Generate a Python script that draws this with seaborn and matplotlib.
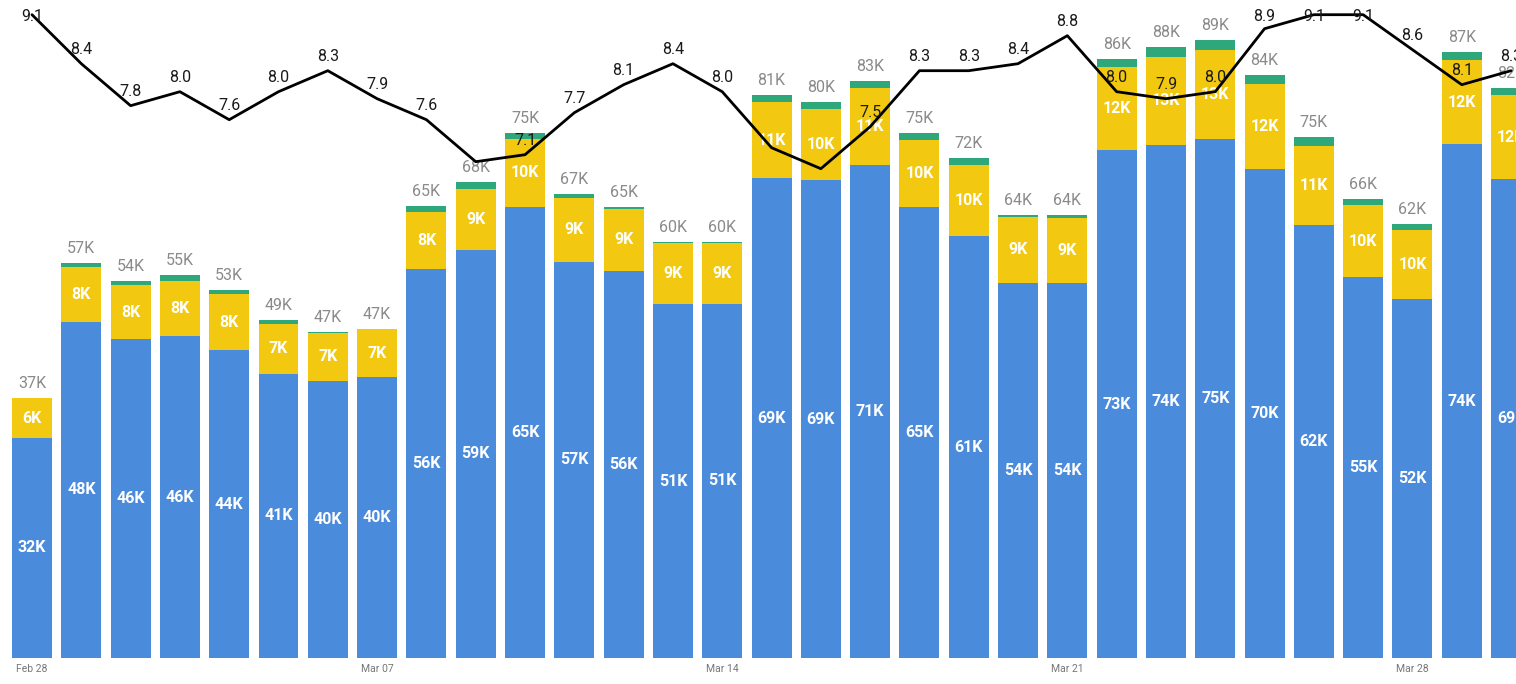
import pandas as pd
import numpy as np
import matplotlib
matplotlib.use("Agg")
import matplotlib.pyplot as plt
import seaborn as sns

# 데이터 (그림에서 읽은 값, 단위 K)
dates = pd.date_range("2021-02-28", "2021-03-30", freq="D")
blue = [31.6, 48.3, 45.8, 46.2, 44.2, 40.8, 39.8, 40.3, 55.8, 58.6,
        64.8, 56.9, 55.6, 50.8, 50.9, 68.9, 68.6, 70.8, 64.8, 60.6,
        53.9, 53.8, 72.9, 73.7, 74.6, 70.2, 62.2, 54.7, 51.6, 73.8, 68.8]
yellow = [5.7, 7.9, 7.7, 8.0, 8.1, 7.2, 6.9, 6.9, 8.2, 8.8,
          9.8, 9.2, 8.9, 8.8, 8.7, 10.9, 10.3, 11.1, 9.6, 10.2,
          9.4, 9.4, 12.0, 12.6, 12.7, 12.3, 11.3, 10.3, 9.9, 12.1, 12.0]
green = [0.0, 0.6, 0.7, 0.8, 0.6, 0.6, 0.1, 0.1, 0.9, 0.9,
         0.8, 0.6, 0.3, 0.2, 0.2, 1.0, 1.0, 1.0, 1.0, 1.0,
         0.3, 0.4, 1.1, 1.5, 1.4, 1.2, 1.3, 0.9, 0.8, 1.2, 1.1]
line_vals = [9.1, 8.4, 7.8, 8.0, 7.6, 8.0, 8.3, 7.9, 7.6, 7.0,
             7.1, 7.7, 8.1, 8.4, 8.0, 7.2, 6.9, 7.5, 8.3, 8.3,
             8.4, 8.8, 8.0, 7.9, 8.0, 8.9, 9.1, 9.1, 8.6, 8.1, 8.3]
hidden_line_labels = [9, 15, 16]

df = pd.DataFrame({
    "date": dates.strftime("%b %d"),
    "blue": blue,
    "yellow": yellow,
    "green": green,
    "line": line_vals,
})
df["mid"] = df["blue"] + df["yellow"]
df["total"] = df["mid"] + df["green"]

C_BLUE = "#4a8bdc"
C_YELLOW = "#f2c811"
C_GREEN = "#2ea87a"

sns.set_style("white")
plt.rcParams["font.family"] = ["Roboto", "DejaVu Sans"]

fig = plt.figure(figsize=(15.16, 6.84), dpi=100)
ax = fig.add_axes([0, 26 / 684, 1, 658 / 684])

bw = 0.81
sns.barplot(data=df, x="date", y="total", color=C_GREEN, saturation=1,
            width=bw, linewidth=0, ax=ax)
sns.barplot(data=df, x="date", y="mid", color=C_YELLOW, saturation=1,
            width=bw, linewidth=0, ax=ax)
sns.barplot(data=df, x="date", y="blue", color=C_BLUE, saturation=1,
            width=bw, linewidth=0, ax=ax)

ax.set_xlim(-0.649, 30.1)
ax.set_ylim(0, 94.5)
ax.set_xlabel("")
ax.set_ylabel("")
ax.set_yticks([])
ticks = list(range(0, len(df), 7))
ax.set_xticks(ticks)
ax.set_xticklabels([df["date"][i] for i in ticks], fontsize=7.5, color="#777777")
ax.tick_params(axis="x", length=0, pad=4)
for s in ax.spines.values():
    s.set_visible(False)

# 막대 라벨
for i, row in df.iterrows():
    ax.text(i, row["blue"] / 2, f"{round(row['blue'])}K", ha="center", va="center",
            color="white", fontsize=11.5, fontweight="semibold")
    ax.text(i, row["blue"] + row["yellow"] / 2, f"{round(row['yellow'])}K",
            ha="center", va="center", color="white", fontsize=11.5, fontweight="semibold")
    ax.annotate(f"{round(row['total'])}K", (i, row["total"]), xytext=(0, 5),
                textcoords="offset points", ha="center", va="bottom",
                color="#8a8a8a", fontsize=11.5)

# 보조축 라인
ax2 = ax.twinx()
sns.lineplot(x=np.arange(len(df)), y=df["line"], color="black", linewidth=2,
             ax=ax2, sort=False)
ax2.set_ylim(-0.09, 9.31)
ax2.set_yticks([])
ax2.set_ylabel("")
for s in ax2.spines.values():
    s.set_visible(False)

for i, v in enumerate(line_vals):
    if i in hidden_line_labels:
        continue
    ax2.text(i, min(v + 0.2, 9.08), f"{v:.1f}", ha="center", va="center",
             color="#1a1a1a", fontsize=11.5)

fig.savefig("out.png", dpi=100)
